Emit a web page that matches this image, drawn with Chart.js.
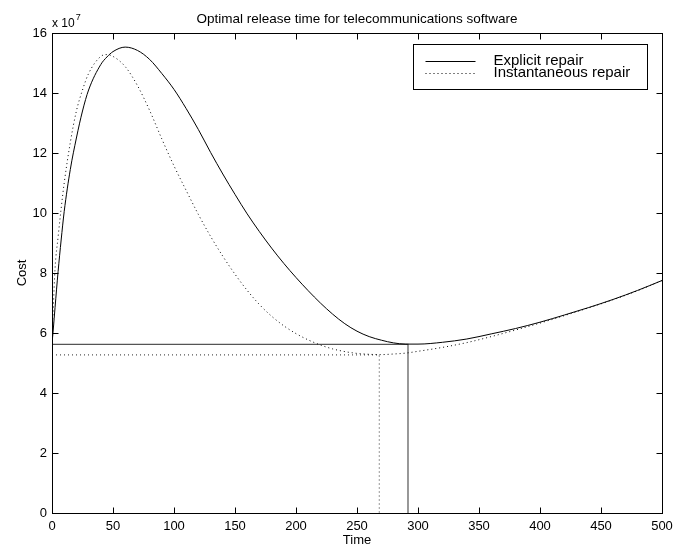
<!DOCTYPE html>
<html>
<head>
<meta charset="utf-8">
<script src="https://cdn.jsdelivr.net/npm/chart.js@4"></script>
<style>
  html, body { margin: 0; padding: 0; background: #fff; }
  #wrap { width: 687px; height: 548px; }
</style>
</head>
<body>
<div id="wrap"><canvas id="costChart" width="687" height="548"></canvas></div>
<script>
// time axis samples (same for both curves)
const times = [0, 1, 2.5, 5, 7.5, 10, 15, 20, 25, 30, 40, 45, 50,
  60, 70, 80, 90, 100, 110, 120, 130, 140, 150, 160, 170, 180, 190, 200,
  210, 220, 230, 240, 250, 260, 270, 280, 290, 300,
  320, 340, 360, 380, 400, 420, 440, 460, 480, 500];

// cost in units of 1e7
const explicitCost = [5.65, 6.1, 6.85, 8.05, 9.1, 10.05, 11.45, 12.5, 13.4, 14.1, 14.95, 15.2, 15.38,
  15.53, 15.42, 15.12, 14.65, 14.12, 13.48, 12.78, 12.02, 11.3, 10.62, 9.97, 9.38, 8.83, 8.32, 7.85,
  7.41, 7.0, 6.63, 6.31, 6.06, 5.88, 5.76, 5.67, 5.63, 5.63,
  5.69, 5.8, 5.97, 6.15, 6.36, 6.6, 6.85, 7.12, 7.42, 7.75];

const instantCost = [5.65, 6.75, 8.15, 9.2, 10.15, 11.0, 12.35, 13.4, 14.1, 14.65, 15.22, 15.28, 15.22,
  14.88, 14.25, 13.42, 12.47, 11.57, 10.75, 9.95, 9.22, 8.56, 7.96, 7.42, 6.95, 6.56, 6.24, 5.98,
  5.77, 5.6, 5.47, 5.38, 5.32, 5.29, 5.28, 5.3, 5.33, 5.39,
  5.52, 5.68, 5.88, 6.1, 6.33, 6.58, 6.84, 7.11, 7.41, 7.75];

// optimal release points: [explicit, instantaneous]
const optTimes = [291.8, 268.3];
const optCosts = [5.62, 5.27];

const seriesLabels = ['Explicit repair', 'Instantaneous repair'];
const xTicks = [0, 50, 100, 150, 200, 250, 300, 350, 400, 450, 500];
const yTicks = [0, 2, 4, 6, 8, 10, 12, 14, 16];

const FONT = '"Liberation Sans", Arial, Helvetica, sans-serif';
const dots = [1, 3];

function toPoints(xs, ys) {
  return xs.map((t, i) => ({ x: t, y: ys[i] }));
}

function curve(label, data, dash) {
  return {
    label: label,
    data: data,
    borderColor: '#000',
    borderWidth: 1,
    borderDash: dash,
    pointRadius: 0,
    fill: false,
    cubicInterpolationMode: 'monotone'
  };
}

function guide(data, dash) {
  return {
    label: '',
    data: data,
    borderColor: '#555',
    borderWidth: 1.2,
    borderDash: dash,
    pointRadius: 0,
    fill: false,
    tension: 0
  };
}

// box, inward ticks, legend and the exponent label
const matlabFrame = {
  id: 'matlabFrame',
  afterDatasetsDraw(chart) {
    const { ctx, chartArea: a, scales: { x, y } } = chart;
    const L = Math.round(a.left) + 0.5, R = Math.round(a.right) + 0.5;
    const T = Math.round(a.top) + 0.5, B = Math.round(a.bottom) + 0.5;
    const tick = 6;
    ctx.save();
    ctx.strokeStyle = '#000';
    ctx.lineWidth = 1;
    ctx.setLineDash([]);
    ctx.strokeRect(L, T, R - L, B - T);

    ctx.beginPath();
    xTicks.forEach(v => {
      const px = Math.round(x.getPixelForValue(v)) + 0.5;
      ctx.moveTo(px, B); ctx.lineTo(px, B - tick);
      ctx.moveTo(px, T); ctx.lineTo(px, T + tick);
    });
    yTicks.forEach(v => {
      const py = Math.round(y.getPixelForValue(v)) + 0.5;
      ctx.moveTo(L, py); ctx.lineTo(L + tick, py);
      ctx.moveTo(R, py); ctx.lineTo(R - tick, py);
    });
    ctx.stroke();

    // legend
    const bw = 234, bh = 45;
    const bx = Math.round(a.right - 15 - bw) + 0.5, by = Math.round(a.top + 11) + 0.5;
    ctx.fillStyle = '#fff';
    ctx.fillRect(bx, by, bw, bh);
    ctx.strokeRect(bx, by, bw, bh);
    const rows = [by + 16, by + 28.5];
    chart.data.datasets.slice(0, 2).forEach((ds, i) => {
      ctx.setLineDash(ds.borderDash || []);
      ctx.beginPath();
      ctx.moveTo(bx + 12, Math.round(rows[i]) + 0.5);
      ctx.lineTo(bx + 62, Math.round(rows[i]) + 0.5);
      ctx.stroke();
      ctx.setLineDash([]);
      ctx.fillStyle = '#000';
      ctx.font = '15px ' + FONT;
      ctx.textBaseline = 'middle';
      ctx.textAlign = 'left';
      ctx.fillText(ds.label, bx + 80, rows[i]);
    });

    // title
    ctx.fillStyle = '#000';
    ctx.textAlign = 'center';
    ctx.textBaseline = 'alphabetic';
    ctx.font = '13.5px ' + FONT;
    ctx.fillText('Optimal release time for telecommunications software', (a.left + a.right) / 2, 22.5);

    // exponent
    ctx.textAlign = 'left';
    ctx.font = '12px ' + FONT;
    ctx.fillText('x 10', a.left, 26.5);
    const w = ctx.measureText('x 10').width;
    ctx.font = '9px ' + FONT;
    ctx.fillText('7', a.left + w + 1, 20);
    ctx.restore();
  }
};

const ctx = document.getElementById('costChart').getContext('2d');
const costChart = new Chart(ctx, {
  type: 'line',
  data: {
    datasets: [
      curve(seriesLabels[0], toPoints(times, explicitCost), []),
      curve(seriesLabels[1], toPoints(times, instantCost), dots),
      guide([{ x: 0, y: optCosts[0] }, { x: optTimes[0], y: optCosts[0] }, { x: optTimes[0], y: 0 }], []),
      guide([{ x: 0, y: optCosts[1] }, { x: optTimes[1], y: optCosts[1] }, { x: optTimes[1], y: 0 }], dots)
    ]
  },
  options: {
    responsive: false,
    animation: false,
    layout: { padding: { top: 33, right: 25, left: 0, bottom: 0 } },
    plugins: {
      legend: { display: false },
      title: { display: false },
      tooltip: { enabled: false }
    },
    scales: {
      x: {
        type: 'linear',
        min: 0,
        max: 500,
        afterBuildTicks: s => { s.ticks = xTicks.map(v => ({ value: v })); },
        afterFit: s => { s.height = 35; },
        grid: { display: false, drawTicks: false },
        border: { display: false },
        ticks: { padding: 6, color: '#000', maxRotation: 0, font: { family: FONT, size: 13 } },
        title: { display: true, text: 'Time', color: '#000', padding: { top: 0, bottom: 0 }, font: { family: FONT, size: 13 } }
      },
      y: {
        min: 0,
        max: 16,
        afterBuildTicks: s => { s.ticks = yTicks.map(v => ({ value: v })); },
        afterFit: s => { s.width = 52; },
        grid: { display: false, drawTicks: false },
        border: { display: false },
        ticks: { padding: 5, color: '#000', font: { family: FONT, size: 13 } },
        title: { display: true, text: 'Cost', color: '#000', padding: { top: 15, bottom: 0 }, font: { family: FONT, size: 13 } }
      }
    }
  },
  plugins: [matlabFrame]
});
</script>
</body>
</html>
